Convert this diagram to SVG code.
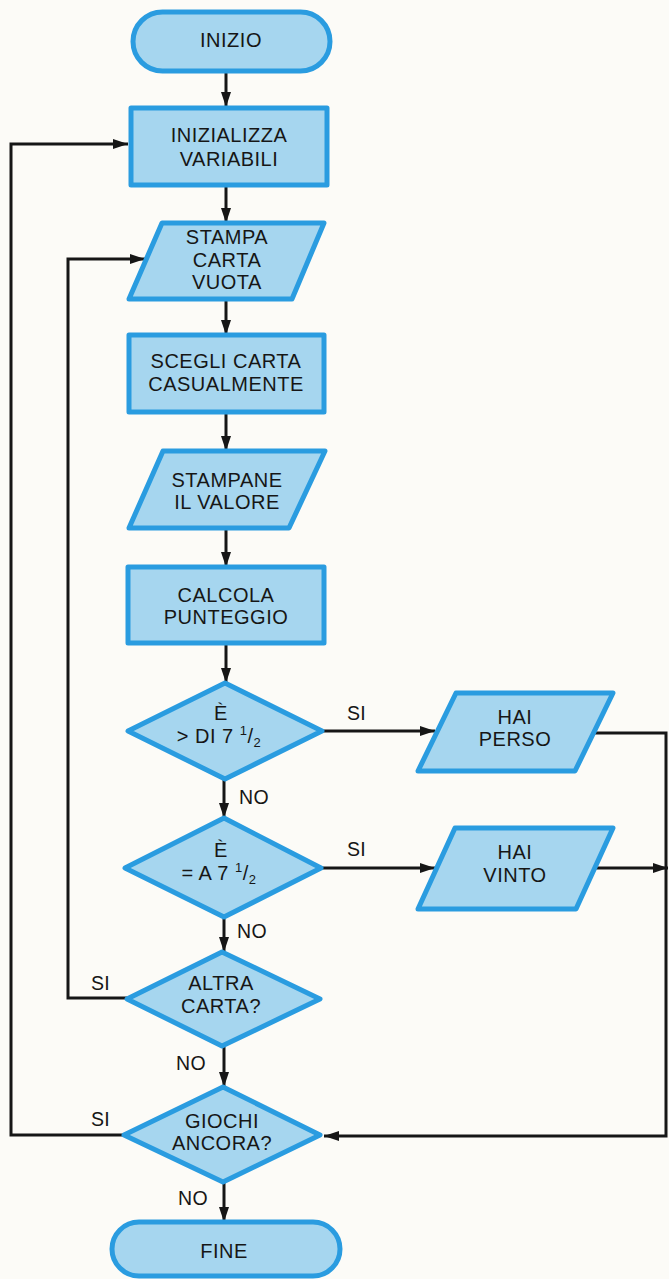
<svg xmlns="http://www.w3.org/2000/svg" width="669" height="1279" viewBox="0 0 669 1279">
<style>
.shape{fill:#a6d6ef;stroke:#2a9ce0;stroke-width:5;stroke-linejoin:round}
.t{font-family:"Liberation Sans",Arial,sans-serif;font-size:20px;fill:#161616;text-anchor:middle;letter-spacing:0.5px}
.lbl{font-family:"Liberation Sans",Arial,sans-serif;font-size:19.5px;fill:#161616;letter-spacing:0.3px}
.c{fill:none;stroke:#161616;stroke-width:3;stroke-linejoin:miter}
</style>
<defs>
<marker id="ah" viewBox="0 0 15 10" refX="15" refY="5" markerWidth="15" markerHeight="10" markerUnits="userSpaceOnUse" orient="auto">
<path d="M0,0 L15,5 L0,10 z" fill="#161616"/>
</marker>
</defs>
<rect x="0" y="0" width="669" height="1279" fill="#fcfbf7"/>

<g id="connectors">
<line class="c" x1="226" y1="71" x2="226" y2="107" marker-end="url(#ah)"/>
<line class="c" x1="226" y1="185" x2="226" y2="223" marker-end="url(#ah)"/>
<line class="c" x1="226" y1="299" x2="226" y2="335" marker-end="url(#ah)"/>
<line class="c" x1="226" y1="412" x2="226" y2="451" marker-end="url(#ah)"/>
<line class="c" x1="226" y1="528" x2="226" y2="567" marker-end="url(#ah)"/>
<line class="c" x1="226" y1="643" x2="226" y2="683" marker-end="url(#ah)"/>
<line class="c" x1="224" y1="779" x2="224" y2="818" marker-end="url(#ah)"/>
<line class="c" x1="224" y1="917" x2="224" y2="952" marker-end="url(#ah)"/>
<line class="c" x1="224" y1="1046" x2="224" y2="1087" marker-end="url(#ah)"/>
<line class="c" x1="224" y1="1182" x2="224" y2="1222" marker-end="url(#ah)"/>
<line class="c" x1="322" y1="731" x2="435" y2="731" marker-end="url(#ah)"/>
<line class="c" x1="322" y1="868" x2="435" y2="868" marker-end="url(#ah)"/>
<polyline class="c" points="593,733 666,733 666,1136 324,1136" marker-end="url(#ah)"/>
<line class="c" x1="596" y1="868" x2="668" y2="868" marker-end="url(#ah)"/>
<polyline class="c" points="127,998 68,998 68,259 145,259" marker-end="url(#ah)"/>
<polyline class="c" points="124,1135 11,1135 11,144 128,144" marker-end="url(#ah)"/>
<text class="lbl" x="347" y="720">SI</text>
<text class="lbl" x="347" y="856">SI</text>
<text class="lbl" x="239" y="804">NO</text>
<text class="lbl" x="237" y="938">NO</text>
<text class="lbl" x="91" y="990">SI</text>
<text class="lbl" x="176" y="1070">NO</text>
<text class="lbl" x="91" y="1126">SI</text>
<text class="lbl" x="178" y="1205">NO</text>
</g>

<g id="inizio">
<rect class="shape" x="133" y="12" width="197" height="59" rx="29.5"/>
<text class="t" x="231" y="47">INIZIO</text>
</g>
<g id="inizializza">
<rect class="shape" x="131" y="108" width="196" height="77"/>
<text class="t" x="229" y="142">INIZIALIZZA</text>
<text class="t" x="229" y="166">VARIABILI</text>
</g>
<g id="stampa-carta">
<polygon class="shape" points="162,223 324,223 292,299 129,299"/>
<text class="t" x="227" y="244">STAMPA</text>
<text class="t" x="227" y="267">CARTA</text>
<text class="t" x="227" y="289">VUOTA</text>
</g>
<g id="scegli">
<rect class="shape" x="129" y="335" width="195" height="77"/>
<text class="t" x="226" y="368">SCEGLI CARTA</text>
<text class="t" x="226" y="391">CASUALMENTE</text>
</g>
<g id="stampane">
<polygon class="shape" points="163,451 325,451 289,528 129,528"/>
<text class="t" x="227" y="487">STAMPANE</text>
<text class="t" x="227" y="509">IL VALORE</text>
</g>
<g id="calcola">
<rect class="shape" x="128" y="567" width="196" height="76"/>
<text class="t" x="226" y="602">CALCOLA</text>
<text class="t" x="226" y="624">PUNTEGGIO</text>
</g>
<g id="maggiore">
<polygon class="shape" points="225,683 322,731 225,779 128,731"/>
<text class="t" x="221" y="720">È</text>
<text class="t" x="219" y="743">&gt; DI 7 <tspan font-size="13" dy="-8">1</tspan><tspan dy="8">/</tspan><tspan font-size="13" dy="4">2</tspan></text>
</g>
<g id="uguale">
<polygon class="shape" points="224,818 321,868 224,917 125,868"/>
<text class="t" x="221" y="857">È</text>
<text class="t" x="219" y="880">= A 7 <tspan font-size="13" dy="-8">1</tspan><tspan dy="8">/</tspan><tspan font-size="13" dy="4">2</tspan></text>
</g>
<g id="hai-perso">
<polygon class="shape" points="456,693 613,693 575,771 418,771"/>
<text class="t" x="515" y="724">HAI</text>
<text class="t" x="515" y="746">PERSO</text>
</g>
<g id="hai-vinto">
<polygon class="shape" points="455,828 613,828 576,909 418,909"/>
<text class="t" x="515" y="859">HAI</text>
<text class="t" x="515" y="882">VINTO</text>
</g>
<g id="altra-carta">
<polygon class="shape" points="222,952 320,999 222,1046 127,999"/>
<text class="t" x="221" y="990">ALTRA</text>
<text class="t" x="221" y="1013">CARTA?</text>
</g>
<g id="giochi-ancora">
<polygon class="shape" points="223,1087 320,1135 223,1182 124,1135"/>
<text class="t" x="222" y="1128">GIOCHI</text>
<text class="t" x="222" y="1150">ANCORA?</text>
</g>
<g id="fine">
<rect class="shape" x="112" y="1222" width="228" height="54" rx="27"/>
<text class="t" x="224" y="1258">FINE</text>
</g>
</svg>
